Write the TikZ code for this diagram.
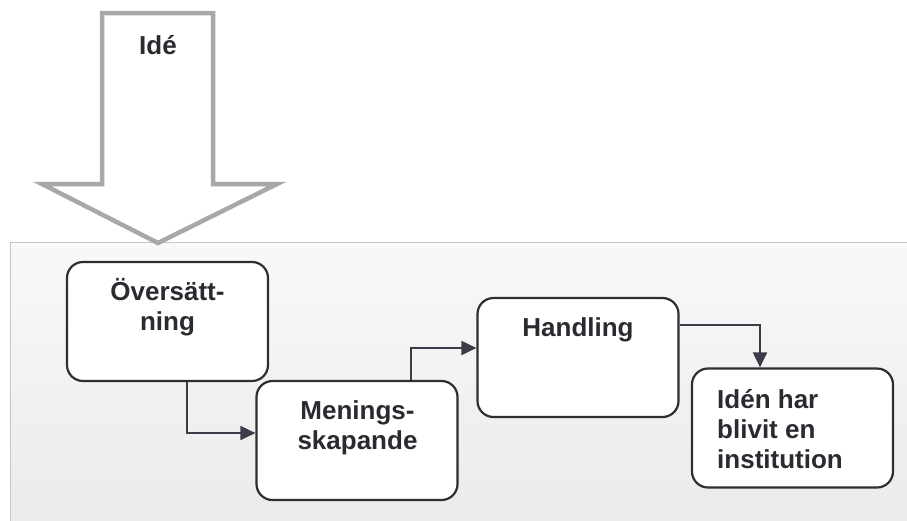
\documentclass[tikz,border=0pt]{standalone}
\usepackage{fontspec}
\setmainfont{Liberation Sans}
\usetikzlibrary{arrows.meta}
\definecolor{boxline}{HTML}{2E2E34}
\definecolor{txt}{HTML}{2A2A30}
\definecolor{conncol}{HTML}{3C3C48}
\definecolor{bigarrow}{HTML}{A8A8A8}
\tikzset{
  stepbox/.style={draw=boxline, line width=2.2pt, rounded corners=16pt, fill=white,
    minimum width=201pt, minimum height=119pt, inner sep=0pt},
  lbl/.style={font=\fontsize{26}{30}\selectfont\bfseries, text=txt, inner sep=0pt},
  conn/.style={draw=conncol, line width=2pt, -{Triangle[length=15pt,width=14pt]}},
}
\begin{document}
\begin{tikzpicture}[x=1pt,y=-1pt]
\useasboundingbox (0,0) rectangle (907,520);
% background panel
\shade[top color=gray!5, bottom color=gray!16, draw=gray!45, line width=0.8pt]
  (10,242) rectangle (910,523);
% big idea arrow
\draw[bigarrow, line width=4.5pt, fill=white, line join=miter]
  (102,13) -- (213,13) -- (213,184) -- (277,184) -- (158,243) -- (42,184) -- (102,184) -- cycle;
\node[lbl] (ide) at (158,45) {Idé};
% boxes
\node[stepbox] (b1) at (167.5,321.5) {};
\node[stepbox] (b2) at (357,440.5) {};
\node[stepbox] (b3) at (578,357.5) {};
\node[stepbox] (b4) at (792.5,428) {};
% labels
\node[lbl, align=center] (t1) at (167.5,307.5) {Översätt-\\ning};
\node[lbl, align=center] (t2) at (357.5,427.5) {Menings-\\skapande};
\node[lbl] (t3) at (578,330) {Handling};
\node[lbl, align=left, anchor=west] (t4) at (717,429) {Idén har\\blivit en\\institution};
% connectors
\coordinate (c1) at (187,433);
\coordinate (c2) at (411,348);
\coordinate (c3) at (760,325);
\draw[conn] (b1.south -| c1) |- (b2.west |- c1);
\draw[conn] (b2.north -| c2) |- (b3.west |- c2);
\draw[conn] (b3.east |- c3) -| (b4.north -| c3);
\end{tikzpicture}
\end{document}
